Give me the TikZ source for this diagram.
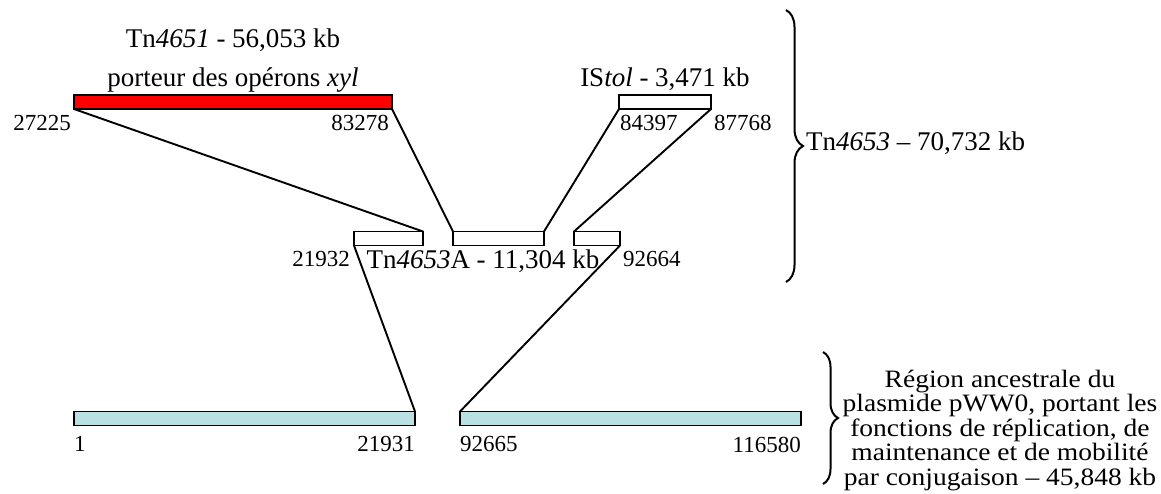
\documentclass[tikz,border=0pt]{standalone}
\usepackage{fontspec}
\setmainfont{Liberation Serif}
\newfontfamily\ancestralfont{Liberation Serif}[FakeStretch=1.1]
\usetikzlibrary{positioning, decorations.pathreplacing}
\definecolor{ancestral}{RGB}{185,225,227}

\begin{document}
\begin{tikzpicture}[
	x=1pt, y=-1pt,
	bar/.style={
		rectangle,
		draw=black,
		line width=1.9pt,
		inner sep=0pt,
		outer sep=0pt,
		fill=white,
		minimum height=14pt
	},
	num/.style={
		font=\fontsize{23}{27}\selectfont,
		inner sep=0pt
	},
	title/.style={
		font=\fontsize{27}{30}\selectfont,
		inner sep=0pt,
		anchor=base
	},
	link/.style={
		line width=1.9pt
	},
	accolade/.style={
		decorate,
		decoration={brace, amplitude=#1},
		line width=2pt
	},
	accolade/.default=15pt
	]
	\useasboundingbox (0,0) rectangle (1161,493);

	% rangee du haut
	\node[bar, fill=red, minimum width=318pt] (Tn4651) at (233,102) {};
	\node[bar, minimum width=92pt] (IStol) at (665,102) {};
	\node[title] (t4651) at (233,47) {Tn\textit{4651} - 56,053 kb};
	\node[title] (porteur) at (233,86) {porteur des opérons \textit{xyl}};
	\node[title] (tIS) at (665,86) {IS\textit{tol} - 3,471 kb};
	\node[num, below left=6pt and 3pt of Tn4651.south west] (n27225) {27225};
	\node[num, below left=6pt and 3pt of Tn4651.south east] (n83278) {83278};
	\node[num, below right=6pt and 1pt of IStol.south west] (n84397) {84397};
	\node[num, below right=6pt and 3pt of IStol.south east] (n87768) {87768};

	% Tn4653A
	\node[bar, minimum width=69pt] (partA) at (388.5,238.5) {};
	\node[bar, minimum width=91pt] (partB) at (498.5,238.5) {};
	\node[bar, minimum width=46pt] (partC) at (597,238.5) {};
	\node[title] (t4653A) at (483,268) {Tn\textit{4653}A - 11,304 kb};
	\node[num, below left=6pt and 4pt of partA.south west] (n21932) {21932};
	\node[num, below right=6pt and 3pt of partC.south east] (n92664) {92664};

	% region ancestrale
	\node[bar, fill=ancestral, minimum width=341pt] (pwwL) at (244.5,418.5) {};
	\node[bar, fill=ancestral, minimum width=341pt] (pwwR) at (630.5,418.5) {};
	\node[num, below right=11pt and 0pt of pwwL.south west] (n1) {1};
	\node[num, below left=11pt and 0pt of pwwL.south east] (n21931) {21931};
	\node[num, below right=11pt and 0pt of pwwR.south west] (n92665) {92665};
	\node[num, below left=11pt and 0pt of pwwR.south east] (n116580) {116580};

	\draw[link] (Tn4651.south west) -- (partA.north east);
	\draw[link] (Tn4651.south east) -- (partB.north west);
	\draw[link] (IStol.south west) -- (partB.north east);
	\draw[link] (IStol.south east) -- (partC.north west);
	\draw[link] (partA.south west) -- (pwwL.north east);
	\draw[link] (partC.south east) -- (pwwR.north west);

	% accolades
	\coordinate (acc1top) at (786,10);
	\coordinate (acc1bot) at (786,282);
	\coordinate (acc2top) at (823,352);
	\coordinate (acc2bot) at (823,484);
	\draw[accolade=17pt] (acc1top) -- (acc1bot);
	\draw[accolade=15pt] (acc2top) -- (acc2bot);
	\node[title, anchor=base west] (t4653) at (806,150) {Tn\textit{4653} – 70,732 kb};
	\node[title, anchor=center, align=center, font=\ancestralfont\fontsize{25}{24.5}\selectfont] (tancestral) at (1000,430) {Région ancestrale du\\plasmide pWW0, portant les\\fonctions de réplication, de\\maintenance et de mobilité\\par conjugaison – 45,848 kb};
\end{tikzpicture}
\end{document}
